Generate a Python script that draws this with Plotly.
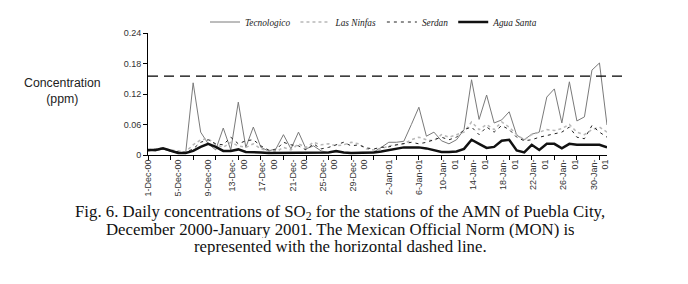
import pandas as pd
import plotly.graph_objects as go

dates = list(pd.date_range("2000-12-01", "2001-01-31").strftime("%Y-%m-%d"))

tecnologico = [0.010, 0.008, 0.012, 0.007, 0.004, 0.003, 0.142, 0.045, 0.022, 0.010,
               0.053, 0.010, 0.104, 0.015, 0.055, 0.015, 0.008, 0.012, 0.040, 0.012,
               0.045, 0.012, 0.018, 0.008, 0.005, 0.006, 0.005, 0.004, 0.005, 0.005,
               0.006, 0.015, 0.025, 0.025, 0.027, 0.060, 0.094, 0.037, 0.045, 0.028,
               0.022, 0.030, 0.050, 0.148, 0.070, 0.118, 0.063, 0.069, 0.085, 0.039,
               0.030, 0.041, 0.045, 0.114, 0.130, 0.063, 0.144, 0.067, 0.075, 0.167,
               0.181, 0.059]
las_ninfas = [0.010, 0.012, 0.014, 0.010, 0.008, 0.006, 0.020, 0.030, 0.032, 0.020,
              0.015, 0.025, 0.018, 0.015, 0.022, 0.012, 0.008, 0.006, 0.015, 0.010,
              0.022, 0.015, 0.025, 0.020, 0.022, 0.018, 0.020, 0.025, 0.022, 0.012,
              0.010, 0.012, 0.018, 0.020, 0.022, 0.030, 0.035, 0.030, 0.028, 0.040,
              0.035, 0.040, 0.045, 0.065, 0.050, 0.060, 0.050, 0.065, 0.055, 0.040,
              0.030, 0.040, 0.045, 0.050, 0.048, 0.052, 0.060, 0.045, 0.040, 0.050,
              0.055, 0.045]
serdan = [0.008, 0.010, 0.012, 0.008, 0.006, 0.005, 0.012, 0.025, 0.030, 0.022,
          0.020, 0.035, 0.022, 0.028, 0.030, 0.018, 0.010, 0.010, 0.025, 0.020,
          0.018, 0.010, 0.022, 0.012, 0.015, 0.020, 0.025, 0.018, 0.020, 0.014,
          0.012, 0.015, 0.016, 0.020, 0.022, 0.025, 0.022, 0.025, 0.030, 0.035,
          0.030, 0.035, 0.050, 0.055, 0.040, 0.055, 0.045, 0.058, 0.050, 0.035,
          0.028, 0.030, 0.035, 0.038, 0.042, 0.045, 0.055, 0.035, 0.032, 0.058,
          0.045, 0.035]
agua_santa = [0.010, 0.010, 0.013, 0.008, 0.004, 0.004, 0.008, 0.016, 0.022, 0.016,
              0.008, 0.008, 0.011, 0.006, 0.006, 0.005, 0.004, 0.004, 0.004, 0.004,
              0.004, 0.004, 0.004, 0.004, 0.005, 0.008, 0.005, 0.004, 0.004, 0.004,
              0.005, 0.007, 0.010, 0.013, 0.015, 0.015, 0.015, 0.013, 0.009, 0.006,
              0.006, 0.007, 0.012, 0.030, 0.022, 0.014, 0.016, 0.028, 0.030, 0.009,
              0.005, 0.020, 0.010, 0.022, 0.022, 0.013, 0.022, 0.020, 0.020, 0.020,
              0.020, 0.015]
mon_norm = 0.155

x_tick_labels = ["1-Dec-00", "5-Dec-00", "9-Dec-00", "13-Dec-<br>00", "17-Dec-<br>00",
                 "21-Dec-<br>00", "25-Dec-<br>00", "29-Dec-<br>00", "2-Jan-01", "6-Jan-01",
                 "10-Jan-<br>01", "14-Jan-<br>01", "18-Jan-<br>01", "22-Jan-<br>01",
                 "26-Jan-<br>01", "30-Jan-<br>01"]
y_tick_vals = [0, 0.06, 0.12, 0.18, 0.24]
y_tick_labels = ["0", "0.06", "0.12", "0.18", "0.24"]

caption_lines = [
    "Fig. 6. Daily concentrations of SO<sub>2</sub> for the stations of the AMN of Puebla City,",
    "December 2000-January 2001. The Mexican Official Norm (MON) is",
    "represented with the horizontal dashed line.",
]

# page offset (browser body margin)
OX, OY = 8, 8
W, H = 688 - OX, 284 - OY
L, R, T, B = 148 - OX, 607 - OX, 33 - OY, 155 - OY
pw, ph = R - L, B - T


def px(xp):
    return (xp - OX - L) / pw


def py(yp):
    return (B - (yp - OY)) / ph


fig = go.Figure()
fig.add_trace(go.Scatter(x=dates, y=tecnologico, mode="lines", name="Tecnologico",
                         line=dict(color="#7a7a7a", width=1)))
fig.add_trace(go.Scatter(x=dates, y=las_ninfas, mode="lines", name="Las Ninfas",
                         line=dict(color="#b8b8b8", width=1.5, dash="dot")))
fig.add_trace(go.Scatter(x=dates, y=serdan, mode="lines", name="Serdan",
                         line=dict(color="#222222", width=1, dash="3px,4px")))
fig.add_trace(go.Scatter(x=dates, y=agua_santa, mode="lines", name="Agua Santa",
                         line=dict(color="#111111", width=2.5)))

fig.add_shape(type="line", xref="paper", yref="y", x0=0, x1=px(623), y0=mon_norm, y1=mon_norm,
              line=dict(color="black", width=1.2, dash="10px,6px"))

fig.update_layout(
    width=W, height=H,
    margin=dict(l=L, r=W - R, t=T, b=H - B, autoexpand=False),
    paper_bgcolor="white", plot_bgcolor="white",
    showlegend=True,
    legend=dict(orientation="h", x=px(205), xanchor="left", y=py(22), yanchor="middle",
                font=dict(family="Liberation Serif", size=9.3, color="#222", style="italic"),
                bgcolor="rgba(0,0,0,0)", itemwidth=30, tracegroupgap=0),
    font=dict(family="Liberation Sans, Arial", color="#333"),
)
fig.update_xaxes(
    range=[dates[0], dates[-1]], automargin=False,
    tickmode="array", tickvals=dates[::4], ticktext=x_tick_labels,
    tickangle=-90, tickfont=dict(size=9, family="Liberation Sans", color="#333"),
    ticks="", showgrid=False, zeroline=False,
    showline=True, linecolor="black", linewidth=1,
    minor=dict(tickmode="array", tickvals=dates[::3], ticks="outside", ticklen=4,
               tickcolor="black", showgrid=False),
)
fig.update_yaxes(
    range=[0, 0.24], automargin=False, tickmode="array", tickvals=y_tick_vals, ticktext=y_tick_labels,
    tickfont=dict(size=9, family="Liberation Sans", color="#333"),
    ticks="outside", ticklen=4, tickcolor="black",
    showgrid=False, zeroline=False, showline=True, linecolor="black", linewidth=1,
)

fig.add_annotation(text="Concentration<br>(ppm)", xref="paper", yref="paper",
                   x=px(62), y=py(91), showarrow=False,
                   xanchor="center", yanchor="middle",
                   font=dict(family="Liberation Sans", size=12.3, color="#222"))

for i, line in enumerate(caption_lines):
    yc = 212 + 17.3 * i
    fig.add_annotation(text=line, xref="paper", yref="paper",
                       x=px(340), y=py(yc), showarrow=False,
                       xanchor="center", yanchor="middle", height=17, borderpad=0,
                       font=dict(family="Liberation Serif", size=16.8, color="#111"))

fig.write_html("out.html")
